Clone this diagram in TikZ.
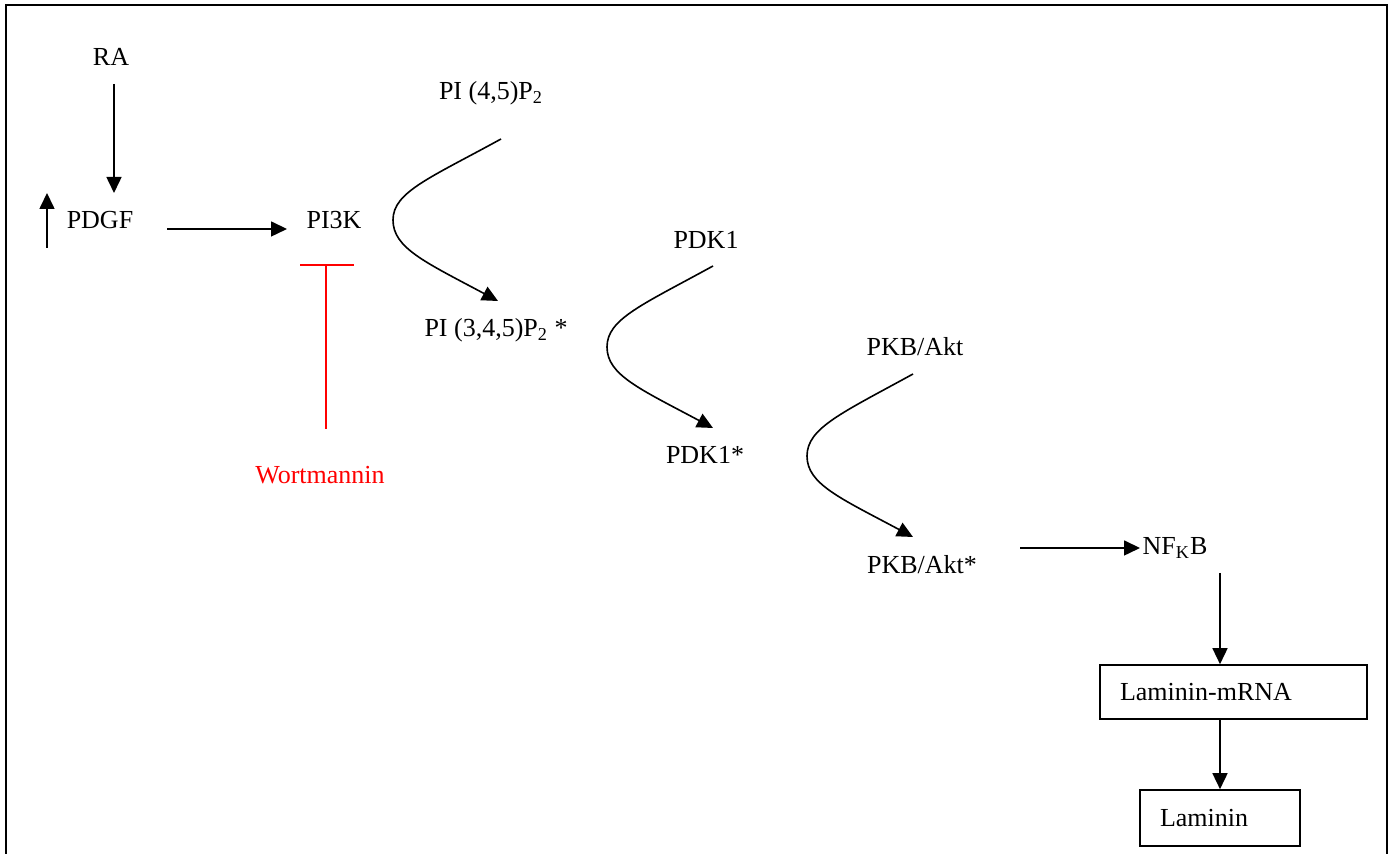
\documentclass[tikz,border=0pt]{standalone}
\usepackage{fontspec}
\setmainfont{Liberation Serif}
\usetikzlibrary{arrows.meta}
\begin{document}
\begin{tikzpicture}[x=0.5pt,y=0.5pt,
  lbl/.style={inner sep=0pt,font=\fontsize{13}{15}\selectfont},
  boxed/.style={draw,line width=0.8pt,inner xsep=10pt,inner ysep=0pt,align=left,font=\fontsize{13}{15}\selectfont},
  arr/.style={-{Triangle[length=8pt,width=7.5pt]},line width=0.8pt},
  inh/.style={draw=red,line width=0.8pt}]
\useasboundingbox (0,0) rectangle (1397,854);
\draw[line width=0.9pt] (6,-10) -- (6,849) -- (1387,849) -- (1387,-10);

% text nodes
\node[lbl] (RA) at (111,797) {RA};
\node[lbl] (PDGF) at (100,634) {PDGF};
\node[lbl] (PI3K) at (334,634) {PI3K};
\node[lbl,text=red] (Wort) at (320,379) {Wortmannin};
\node[lbl] (PIP2) at (491,761) {PI (4,5)P\textsubscript{2}};
\node[lbl] (PIP3) at (496,524) {PI (3,4,5)P\textsubscript{2} *};
\node[lbl] (PDK1) at (706,614) {PDK1};
\node[lbl] (PDK1s) at (705,399) {PDK1*};
\node[lbl] (PKB) at (915,507) {PKB/Akt};
\node[lbl] (PKBs) at (922,289) {PKB/Akt*};
\node[lbl] (NFKB) at (1175,306) {NF\textsubscript{K}B};
\node[boxed,minimum width=133.5pt,minimum height=27pt,text width=113.5pt] (mRNA) at (1233.5,162) {Laminin-mRNA};
\node[boxed,minimum width=80pt,minimum height=28pt,text width=60pt] (Lam) at (1220,36) {Laminin};

% connector end points
\coordinate (ra1) at (114,770);
\coordinate (ra2) at (114,661);
\coordinate (up1) at (47,606);
\coordinate (up2) at (47,661);
\coordinate (pd1) at (167,625);
\coordinate (pd2) at (287,625);
\coordinate (tb1) at (300,589);
\coordinate (tb2) at (354,589);
\coordinate (tv1) at (326,589);
\coordinate (tv2) at (326,425);
\coordinate (c1s) at (501,715);
\coordinate (c1m) at (393,634);
\coordinate (c1e) at (498,553);
\coordinate (c2s) at (713,588);
\coordinate (c2m) at (607,507);
\coordinate (c2e) at (713,426);
\coordinate (c3s) at (913,480);
\coordinate (c3m) at (807,398);
\coordinate (c3e) at (913,317);
\coordinate (nf1) at (1020,306);
\coordinate (nf2) at (1140,306);
\coordinate (nf3) at (1220,281);

% connectors
\draw[arr] (ra1) -- (ra2);
\draw[arr] (up1) -- (up2);
\draw[arr] (pd1) -- (pd2);
\draw[inh] (tb1) -- (tb2);
\draw[inh] (tv1) -- (tv2);
\draw[arr] (c1s) .. controls ([shift={(-71,-39)}]c1s) and ([shift={(0,28)}]c1m) .. (c1m)
  .. controls ([shift={(0,-28)}]c1m) and ([shift={(-73,39)}]c1e) .. (c1e);
\draw[arr] (c2s) .. controls ([shift={(-71,-39)}]c2s) and ([shift={(0,28)}]c2m) .. (c2m)
  .. controls ([shift={(0,-28)}]c2m) and ([shift={(-73,39)}]c2e) .. (c2e);
\draw[arr] (c3s) .. controls ([shift={(-71,-39)}]c3s) and ([shift={(0,28)}]c3m) .. (c3m)
  .. controls ([shift={(0,-28)}]c3m) and ([shift={(-73,39)}]c3e) .. (c3e);
\draw[arr] (nf1) -- (nf2);
\draw[arr] (nf3) -- (nf3 |- mRNA.north);
\draw[arr] (nf3 |- mRNA.south) -- (nf3 |- Lam.north);
\end{tikzpicture}
\end{document}
